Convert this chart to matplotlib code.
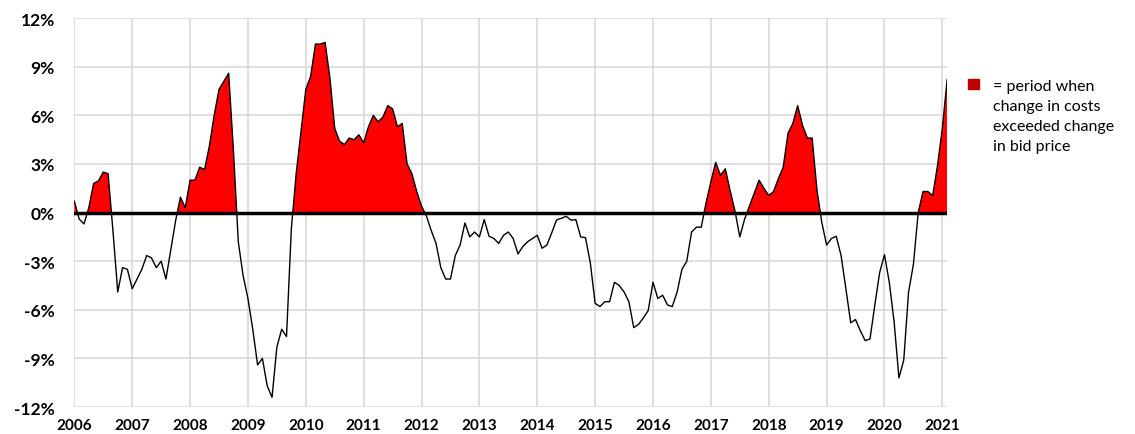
import numpy as np
import matplotlib
matplotlib.use("Agg")
from matplotlib import pyplot as plt

# monthly values, Jan 2006 .. Feb 2021 (% difference, costs vs bid price)
vals = [
    0.7, -0.4, -0.7, 0.3, 1.8, 1.95, 2.5, 2.4, -1.1, -4.9, -3.4, -3.5,      # 2006
    -4.7, -4.1, -3.5, -2.65, -2.8, -3.4, -3.0, -4.1, -2.3, -0.5, 0.95, 0.3, # 2007
    2.0, 2.0, 2.8, 2.65, 4.1, 6.0, 7.6, 8.1, 8.6, 3.8, -1.8, -3.9,          # 2008
    -5.3, -7.2, -9.4, -9.0, -10.7, -11.4, -8.3, -7.2, -7.65, -1.0, 2.4, 5.0, # 2009
    7.6, 8.4, 10.4, 10.4, 10.5, 8.3, 5.2, 4.4, 4.2, 4.6, 4.5, 4.8,          # 2010
    4.3, 5.3, 6.0, 5.6, 5.9, 6.6, 6.4, 5.3, 5.5, 3.0, 2.4, 1.3,             # 2011
    0.4, -0.2, -1.1, -1.9, -3.4, -4.1, -4.1, -2.65, -2.0, -0.64, -1.5, -1.2, # 2012
    -1.5, -0.43, -1.46, -1.6, -1.9, -1.4, -1.2, -1.6, -2.55, -2.1, -1.8, -1.6, # 2013
    -1.4, -2.2, -2.0, -1.25, -0.45, -0.35, -0.23, -0.47, -0.43, -1.5, -1.55, -3.1, # 2014
    -5.6, -5.8, -5.5, -5.5, -4.3, -4.5, -4.9, -5.5, -7.1, -6.9, -6.5, -6.05, # 2015
    -4.3, -5.3, -5.1, -5.7, -5.8, -4.9, -3.5, -3.0, -1.2, -0.9, -0.9, 0.6,  # 2016
    1.9, 3.1, 2.3, 2.7, 1.35, 0.1, -1.5, -0.4, 0.4, 1.2, 2.0, 1.5,          # 2017
    1.05, 1.3, 2.1, 2.8, 4.9, 5.5, 6.6, 5.4, 4.6, 4.6, 1.4, -0.6,           # 2018
    -2.0, -1.6, -1.46, -2.65, -4.7, -6.8, -6.6, -7.3, -7.9, -7.8, -5.7, -3.7, # 2019
    -2.6, -4.3, -6.75, -10.2, -9.1, -4.9, -3.2, 0.0, 1.3, 1.3, 1.05, 2.9,   # 2020
    5.2, 8.2,                                                               # 2021
]
years = list(range(2006, 2022))
yticks = [-12, -9, -6, -3, 0, 3, 6, 9, 12]
legend_text = "= period when\nchange in costs\nexceeded change\nin bid price"

y = np.array(vals)
x = np.arange(len(y))

plt.rcParams['font.family'] = ['Lato', 'DejaVu Sans']

fig = plt.figure(figsize=(11.35, 4.35), dpi=100)
ax = fig.add_axes([0.0655, 0.062, 0.769, 0.894])

ax.fill_between(x, 0, y, where=y > 0, interpolate=True, color='#ff0000', lw=0, zorder=2)
ax.plot(x, y, color='black', lw=1.0, zorder=3)
ax.axhline(0, color='black', lw=2.5, zorder=4)

ax.set_xlim(0, len(y) - 1)
ax.set_ylim(-12, 12)
ax.set_xticks([12 * i for i in range(len(years))])
ax.set_xticklabels([str(v) for v in years], fontsize=11, fontweight='bold')
ax.set_yticks(yticks)
ax.set_yticklabels(['%d%%' % v for v in yticks], fontsize=12.5, fontweight='bold')
ax.tick_params(length=0)
ax.tick_params(axis='x', pad=8)
ax.tick_params(axis='y', pad=14)
ax.grid(True, color='#d9d9d9', lw=1.2, zorder=0)
ax.set_axisbelow(True)
for s in ax.spines.values():
    s.set_visible(False)

# legend marker and note
fig.patches.append(plt.Rectangle((968 / 1135, 1 - 90 / 435), 11 / 1135, 10 / 435,
                                 transform=fig.transFigure, color='#c00000'))
fig.text(993 / 1135, 1 - 80 / 435, legend_text, fontsize=11.5, va='top', ha='left',
         linespacing=1.55)

fig.savefig('out.png', dpi=100)
